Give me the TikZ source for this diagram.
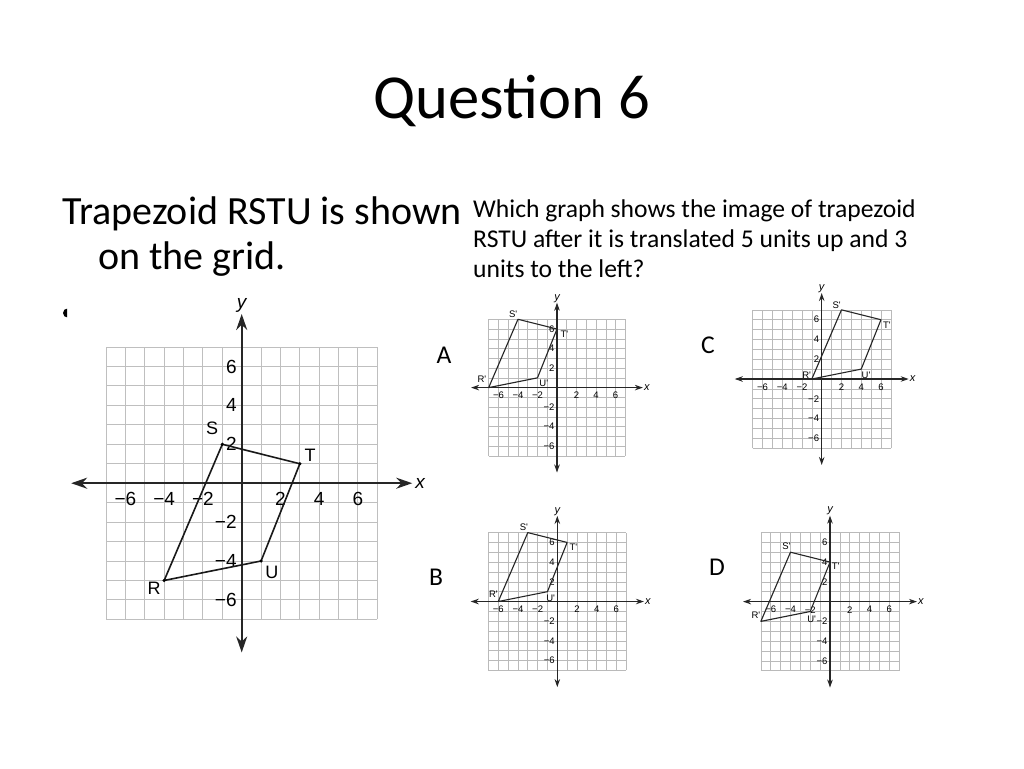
\documentclass[tikz,border=0pt]{standalone}
\usepackage{fontspec}
\setmainfont{Carlito}
\newfontfamily\graphfont{Liberation Sans}
\usetikzlibrary{arrows.meta}
\tikzset{
  biggrid/.style={draw=black!25, line width=1pt},
  smallgrid/.style={draw=black!27, line width=0.6pt},
  bigaxis/.style={draw=black!85, line width=2pt, {Stealth[length=16pt,width=11pt]}-{Stealth[length=16pt,width=11pt]}},
  smallaxis/.style={draw=black!85, line width=1.1pt, {Stealth[length=8pt,width=5.5pt]}-{Stealth[length=8pt,width=5.5pt]}},
  bigtick/.style={font=\fontsize{19}{19}\selectfont\graphfont, inner sep=0pt},
  smalltick/.style={font=\fontsize{9.5}{9.5}\selectfont\graphfont, inner sep=0pt},
  bigaxlab/.style={font=\fontsize{19}{19}\selectfont\graphfont\itshape, inner sep=0pt},
  smallaxlab/.style={font=\fontsize{11}{11}\selectfont\graphfont\itshape, inner sep=0pt},
  bigtrap/.style={draw=black!90, line width=1.6pt, line join=round},
  smalltrap/.style={draw=black!85, line width=1.1pt, line join=round},
  bigpt/.style={font=\fontsize{18}{18}\selectfont\graphfont, inner sep=0pt},
  smallpt/.style={font=\fontsize{9.5}{9.5}\selectfont\graphfont, inner sep=0pt},
  bodytext/.style={anchor=base west, inner sep=0pt},
}
% #1 grid style, #2 axis style, #3 tick style, #4 axis-label style
\newcommand\graphcore[4]{%
  \draw[#1] (-7,-7) grid[step=1] (7,7);
  \draw[#2] (-8.8,0) -- (8.8,0);
  \draw[#2] (0,-8.7) -- (0,8.7);
  \foreach \k/\t in {-6/−6,-4/−4,-2/−2,2/2,4/4,6/6}{
    \node[#3] at (\k,-0.82) {\t};
    \node[#3, anchor=east] at (-0.25,\k) {\t};
  }
  \node[#4] (xl) at (9.2,0) {x};
  \node[#4] (yl) at (0,9.15) {y};
}
\begin{document}
\begin{tikzpicture}[x=1pt,y=-1pt]
\fill[white] (0,0) rectangle (1024,768);
\useasboundingbox (0,0) rectangle (1024,768);

% texts
\node[anchor=base, inner sep=0pt, font=\fontsize{62.6}{70}\selectfont] (title) at (512,118) {Question 6};
\node[bodytext, font=\fontsize{40}{44}\selectfont] (q1) at (62,224) {Trapezoid RSTU is shown};
\node[bodytext, font=\fontsize{40}{44}\selectfont] (q2) at (98,269) {on the grid.};
\node[bodytext, font=\fontsize{25.6}{28}\selectfont] (r1) at (473,217) {Which graph shows the image of trapezoid};
\node[bodytext, font=\fontsize{25.6}{28}\selectfont] (r2) at (473,247) {RSTU after it is translated 5 units up and 3};
\node[bodytext, font=\fontsize{25.6}{28}\selectfont] (r3) at (473,277) {units to the left?};
\node[font=\fontsize{25.6}{28}\selectfont] (la) at (444,355) {A};
\node[font=\fontsize{25.6}{28}\selectfont] (lb) at (436,577) {B};
\node[font=\fontsize{25.6}{28}\selectfont] (lc) at (708,345) {C};
\node[font=\fontsize{25.6}{28}\selectfont] (ld) at (717,567) {D};

% partly hidden bullet
\begin{scope}
  \clip (55,300) rectangle (67,326);
  \fill (67.5,313) circle[radius=4.5pt];
\end{scope}

% main graph
\begin{scope}[shift={(241.7,483.2)}, x=19.38pt, y=19.45pt]
  \graphcore{biggrid}{bigaxis}{bigtick}{bigaxlab}
  \coordinate (R) at (-4,-5);
  \coordinate (S) at (-1,2);
  \coordinate (T) at (3,1);
  \coordinate (U) at (1,-4);
  \draw[bigtrap] (R) -- (S) -- (T) -- (U) -- cycle;
  \foreach \p in {R,S,T,U} \fill (\p) circle[radius=1.8pt];
  \node[bigpt] (lS) at (-1.53,2.84) {S};
  \node[bigpt] (lT) at (3.53,1.45) {T};
  \node[bigpt] (lU) at (1.56,-4.57) {U};
  \node[bigpt] (lR) at (-4.52,-5.39) {R};
\end{scope}

% graph A
\begin{scope}[shift={(557,387.6)}, x=9.76pt, y=9.76pt]
  \graphcore{smallgrid}{smallaxis}{smalltick}{smallaxlab}
  \coordinate (aR) at (-7,0);
  \coordinate (aS) at (-4,7);
  \coordinate (aT) at (0,6);
  \coordinate (aU) at (-2,1);
  \draw[smalltrap] (aR) -- (aS) -- (aT) -- (aU) -- cycle;
  \node[smallpt] (laR) at (-7.7,0.9) {R'};
  \node[smallpt] (laS) at (-4.5,7.55) {S'};
  \node[smallpt] (laT) at (0.75,5.5) {T'};
  \node[smallpt] (laU) at (-1.35,0.4) {U'};
\end{scope}

% graph B
\begin{scope}[shift={(557.3,601.5)}, x=9.84pt, y=9.84pt]
  \graphcore{smallgrid}{smallaxis}{smalltick}{smallaxlab}
  \coordinate (bR) at (-6,0);
  \coordinate (bS) at (-3,7);
  \coordinate (bT) at (1,6);
  \coordinate (bU) at (-1,1);
  \draw[smalltrap] (bR) -- (bS) -- (bT) -- (bU) -- cycle;
  \node[smallpt] (lbR) at (-6.5,0.7) {R'};
  \node[smallpt] (lbS) at (-3.4,7.56) {S'};
  \node[smallpt] (lbT) at (1.63,5.5) {T'};
  \node[smallpt] (lbU) at (-0.68,0.34) {U'};
\end{scope}

% graph C
\begin{scope}[shift={(821.7,379)}, x=9.88pt, y=9.88pt]
  \graphcore{smallgrid}{smallaxis}{smalltick}{smallaxlab}
  \coordinate (cR) at (-1,0);
  \coordinate (cS) at (2,7);
  \coordinate (cT) at (6,6);
  \coordinate (cU) at (4,1);
  \draw[smalltrap] (cR) -- (cS) -- (cT) -- (cU) -- cycle;
  \node[smallpt] (lcR) at (-1.52,0.4) {R'};
  \node[smallpt] (lcS) at (1.52,7.5) {S'};
  \node[smallpt] (lcT) at (6.59,5.47) {T'};
  \node[smallpt] (lcU) at (4.49,0.4) {U'};
\end{scope}

% graph D
\begin{scope}[shift={(830,601.6)}, x=9.88pt, y=9.88pt]
  \graphcore{smallgrid}{smallaxis}{smalltick}{smallaxlab}
  \coordinate (dR) at (-7,-2);
  \coordinate (dS) at (-4,5);
  \coordinate (dT) at (0,4);
  \coordinate (dU) at (-2,-1);
  \draw[smalltrap] (dR) -- (dS) -- (dT) -- (dU) -- cycle;
  \node[smallpt] (ldR) at (-7.5,-1.4) {R'};
  \node[smallpt] (ldS) at (-4.4,5.57) {S'};
  \node[smallpt] (ldT) at (0.57,3.55) {T'};
  \node[smallpt] (ldU) at (-1.86,-1.76) {U'};
\end{scope}
\end{tikzpicture}
\end{document}
